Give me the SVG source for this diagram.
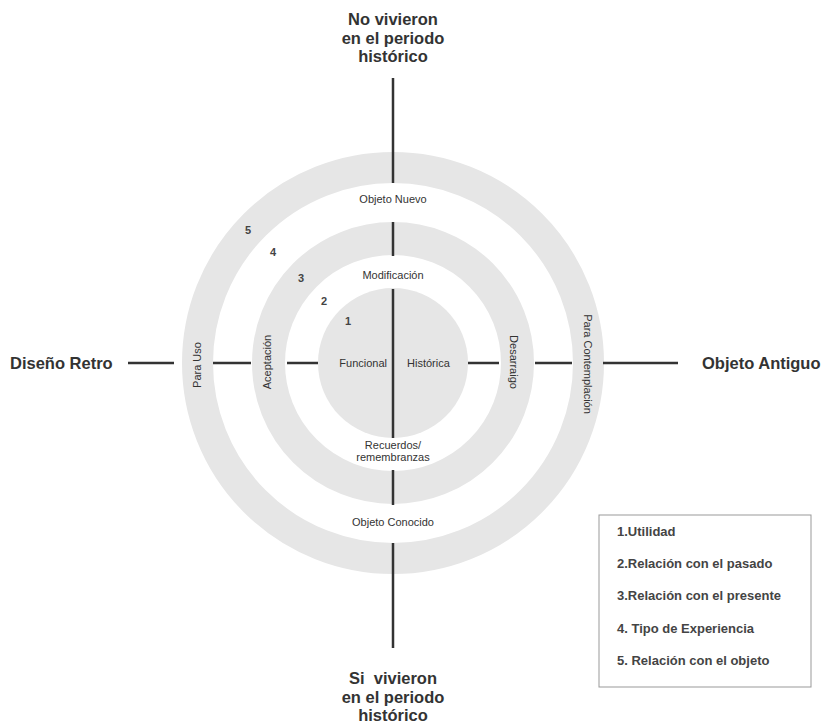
<svg xmlns="http://www.w3.org/2000/svg" width="828" height="724" viewBox="0 0 828 724">
<style>
.band{fill:none;stroke:#e6e6e6}
.ln{stroke:#333;stroke-width:2.5;fill:none}
.big{font-family:"Liberation Sans",Arial,sans-serif;font-size:16.5px;font-weight:bold;fill:#333}
.sm{font-family:"Liberation Sans",Arial,sans-serif;font-size:11px;fill:#333}
.num{font-family:"Liberation Sans",Arial,sans-serif;font-size:11px;font-weight:bold;fill:#444;text-anchor:middle}
.leg{font-family:"Liberation Sans",Arial,sans-serif;font-size:13px;font-weight:bold;fill:#444}
.mid{text-anchor:middle}
</style>
<rect width="828" height="724" fill="#fff"/>
<g id="rings">
<circle class="band" cx="393" cy="363" r="195.5" stroke-width="31"/>
<circle class="band" cx="393" cy="363" r="124.5" stroke-width="33"/>
<circle cx="393" cy="363" r="75" fill="#e6e6e6"/>
</g>
<g id="connectors">
<line class="ln" x1="393" y1="78" x2="393" y2="183"/>
<line class="ln" x1="393" y1="222" x2="393" y2="256"/>
<line class="ln" x1="393" y1="289" x2="393" y2="438"/>
<line class="ln" x1="393" y1="470" x2="393" y2="505"/>
<line class="ln" x1="393" y1="543" x2="393" y2="648"/>
<line class="ln" x1="128" y1="363" x2="174" y2="363"/>
<line class="ln" x1="213" y1="363" x2="251" y2="363"/>
<line class="ln" x1="287" y1="363" x2="318" y2="363"/>
<line class="ln" x1="468" y1="363" x2="499" y2="363"/>
<line class="ln" x1="535" y1="363" x2="572" y2="363"/>
<line class="ln" x1="603" y1="363" x2="678" y2="363"/>
</g>
<g id="top-label"><text class="big mid" x="393" y="25">No vivieron</text><text class="big mid" x="393" y="43.5">en el periodo</text><text class="big mid" x="393" y="62">histórico</text></g>
<g id="bottom-label"><text class="big mid" x="393" y="684" xml:space="preserve">Si  vivieron</text><text class="big mid" x="393" y="703">en el periodo</text><text class="big mid" x="393" y="721">histórico</text></g>
<g id="left-label"><text class="big" x="10" y="369">Diseño Retro</text></g>
<g id="right-label"><text class="big" x="702" y="369">Objeto Antiguo</text></g>
<g id="objeto-nuevo"><text class="sm mid" x="393" y="203">Objeto Nuevo</text></g>
<g id="modificacion"><text class="sm mid" x="393" y="279">Modificación</text></g>
<g id="funcional"><text class="sm" x="387" y="367" text-anchor="end">Funcional</text></g>
<g id="historica"><text class="sm" x="407" y="367">Histórica</text></g>
<g id="recuerdos"><text class="sm mid" x="393" y="449">Recuerdos/</text><text class="sm mid" x="393" y="461">remembranzas</text></g>
<g id="objeto-conocido"><text class="sm mid" x="393" y="526">Objeto Conocido</text></g>
<g id="para-uso"><text class="sm mid" transform="translate(201,365) rotate(-90)">Para Uso</text></g>
<g id="aceptacion"><text class="sm mid" transform="translate(271,362) rotate(-90)">Aceptación</text></g>
<g id="desarraigo"><text class="sm mid" transform="translate(510,362) rotate(90)">Desarraigo</text></g>
<g id="para-contemplacion"><text class="sm mid" transform="translate(584,364) rotate(90)">Para Contemplación</text></g>
<g id="numbers">
<text class="num" x="248" y="234">5</text>
<text class="num" x="273" y="256">4</text>
<text class="num" x="301" y="282">3</text>
<text class="num" x="324" y="305">2</text>
<text class="num" x="348" y="325">1</text>
</g>
<g id="legend">
<rect x="599" y="515" width="212" height="172" fill="#fff" stroke="#999" stroke-width="1"/>
<text class="leg" x="617" y="535.5">1.Utilidad</text>
<text class="leg" x="617" y="567.5">2.Relación con el pasado</text>
<text class="leg" x="617" y="599.5">3.Relación con el presente</text>
<text class="leg" x="617" y="632.5">4. Tipo de Experiencia</text>
<text class="leg" x="617" y="664.5">5. Relación con el objeto</text>
</g>
</svg>
